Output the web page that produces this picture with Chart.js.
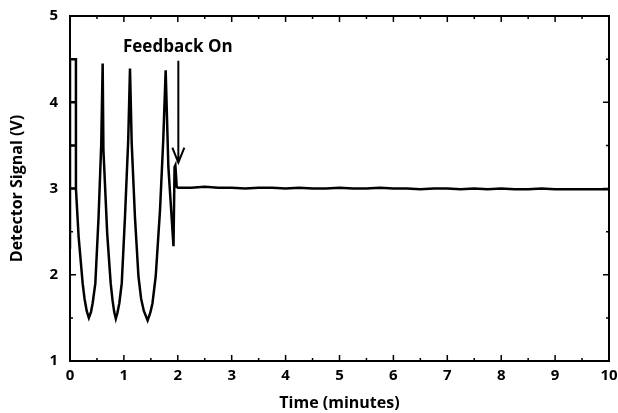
<!DOCTYPE html>
<html>
<head>
<meta charset="utf-8">
<script src="https://cdn.jsdelivr.net/npm/chart.js@4"></script>
<style>
  html, body { margin: 0; padding: 0; background: #fff; }
  #wrap { width: 618px; height: 413px; position: relative; }
</style>
</head>
<body>
<div id="wrap"><canvas id="signalChart"></canvas></div>
<script>
// detector trace (time in minutes, signal in volts)
const timeMin = [
  0.00, 0.00, 0.11, 0.11, 0.00, 0.00, 0.11, 0.11, 0.00, 0.11, 0.11,
  0.16, 0.235, 0.27, 0.31, 0.35, 0.39, 0.42, 0.47, 0.53, 0.58, 0.606,
  0.62, 0.69, 0.755, 0.79, 0.82, 0.85, 0.88, 0.915, 0.96, 1.02, 1.08, 1.113,
  1.145, 1.205, 1.27, 1.32, 1.37, 1.44, 1.49, 1.53, 1.59, 1.67, 1.73, 1.775,
  1.825, 1.885, 1.92, 1.94, 1.955, 1.98,
  2.00, 2.25, 2.50, 2.75, 3.00, 3.25, 3.50, 3.75, 4.00, 4.25,
  4.50, 4.75, 5.00, 5.25, 5.50, 5.75, 6.00, 6.25, 6.50, 6.75,
  7.00, 7.25, 7.50, 7.75, 8.00, 8.25, 8.50, 8.75, 9.00, 9.25,
  9.50, 9.75, 10.00
];
const signalV = [
  2.30, 4.50, 4.50, 3.00, 3.00, 3.50, 3.50, 4.00, 4.00, 4.00, 3.00,
  2.44, 1.90, 1.72, 1.58, 1.50, 1.57, 1.67, 1.90, 2.67, 3.52, 4.45,
  3.45, 2.48, 1.90, 1.70, 1.57, 1.49, 1.56, 1.67, 1.90, 2.67, 3.56, 4.39,
  3.52, 2.67, 1.98, 1.72, 1.58, 1.47, 1.56, 1.67, 1.98, 2.75, 3.56, 4.37,
  3.25, 2.67, 2.33, 3.25, 3.27, 3.02,
  3.01, 3.01, 3.02, 3.01, 3.01, 3.00, 3.01, 3.01, 3.00, 3.01,
  3.00, 3.00, 3.01, 3.00, 3.00, 3.01, 3.00, 3.00, 2.99, 3.00,
  3.00, 2.99, 3.00, 2.99, 3.00, 2.99, 2.99, 3.00, 2.99, 2.99,
  2.99, 2.99, 2.99
];
const xTicks = [0, 1, 2, 3, 4, 5, 6, 7, 8, 9, 10];
const yTicks = [1, 2, 3, 4, 5];
const noteText = 'Feedback On';
const noteAt = { x: 2.0, y: 4.64 };
const arrowFrom = { x: 2.01, y: 4.48 };
const arrowTo = { x: 2.01, y: 3.30 };

const fontFamily = '"Open Sans", "DejaVu Sans", sans-serif';

// inward ticks on all four sides, plus the frame and the arrow note
const framePlugin = {
  id: 'framePlugin',
  afterDatasetsDraw(chart) {
    const { ctx, chartArea: a, scales: { x, y } } = chart;
    ctx.save();
    ctx.strokeStyle = '#000';
    ctx.lineWidth = 2;
    ctx.strokeRect(a.left, a.top, a.right - a.left, a.bottom - a.top);
    ctx.lineWidth = 1.5;
    ctx.beginPath();
    for (let v = 0; v <= 10; v += 0.5) {
      const px = x.getPixelForValue(v);
      const len = Number.isInteger(v) ? 6 : 3;
      ctx.moveTo(px, a.bottom); ctx.lineTo(px, a.bottom - len);
      ctx.moveTo(px, a.top); ctx.lineTo(px, a.top + len);
    }
    for (let v = 1; v <= 5; v += 0.5) {
      const py = y.getPixelForValue(v);
      const len = Number.isInteger(v) ? 6 : 3;
      ctx.moveTo(a.left, py); ctx.lineTo(a.left + len, py);
      ctx.moveTo(a.right, py); ctx.lineTo(a.right - len, py);
    }
    ctx.stroke();

    // arrow
    const ax = x.getPixelForValue(arrowFrom.x);
    const ay0 = y.getPixelForValue(arrowFrom.y);
    const ay1 = y.getPixelForValue(arrowTo.y);
    ctx.lineWidth = 2;
    ctx.beginPath();
    ctx.moveTo(ax, ay0); ctx.lineTo(ax, ay1);
    ctx.moveTo(ax - 6, ay1 - 15); ctx.lineTo(ax, ay1); ctx.lineTo(ax + 6, ay1 - 15);
    ctx.stroke();

    ctx.fillStyle = '#000';
    ctx.font = '700 17px ' + fontFamily;
    ctx.textAlign = 'center';
    ctx.textBaseline = 'middle';
    ctx.fillText(noteText, x.getPixelForValue(noteAt.x), y.getPixelForValue(noteAt.y));
    ctx.restore();
  }
};

const points = timeMin.map((t, i) => ({ x: t, y: signalV[i] }));

new Chart(document.getElementById('signalChart'), {
  type: 'line',
  data: {
    datasets: [{
      data: points,
      borderColor: '#000',
      borderWidth: 2.5,
      pointRadius: 0,
      tension: 0,
      fill: false
    }]
  },
  options: {
    responsive: true,
    maintainAspectRatio: false,
    animation: false,
    layout: { padding: { top: 16, right: 9, left: 8, bottom: 0 } },
    plugins: { legend: { display: false }, tooltip: { enabled: false } },
    scales: {
      x: {
        type: 'linear',
        min: 0,
        max: 10,
        afterBuildTicks: s => { s.ticks = xTicks.map(v => ({ value: v })); },
        afterFit: s => { s.height = 52; s.paddingLeft = 0; s.paddingRight = 0; },
        grid: { display: false, drawTicks: false },
        border: { display: false },
        ticks: { color: '#000', padding: 6, font: { family: fontFamily, size: 15, weight: '700' } },
        title: {
          display: true,
          text: 'Time (minutes)',
          color: '#000',
          padding: { top: 1, bottom: 0 },
          font: { family: fontFamily, size: 16, weight: '700' }
        }
      },
      y: {
        type: 'linear',
        min: 1,
        max: 5,
        afterBuildTicks: s => { s.ticks = yTicks.map(v => ({ value: v })); },
        afterFit: s => { s.width = 62; s.paddingTop = 0; s.paddingBottom = 0; },
        grid: { display: false, drawTicks: false },
        border: { display: false },
        ticks: { color: '#000', padding: 12, font: { family: fontFamily, size: 15, weight: '700' } },
        title: {
          display: true,
          text: 'Detector Signal (V)',
          color: '#000',
          padding: { top: 0, bottom: 0 },
          font: { family: fontFamily, size: 16, weight: '700' }
        }
      }
    }
  },
  plugins: [framePlugin]
});
</script>
</body>
</html>
